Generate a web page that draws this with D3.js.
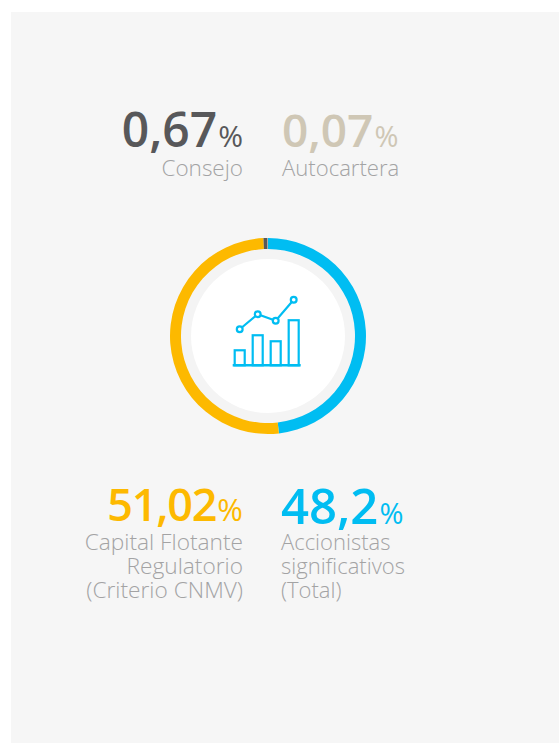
<!DOCTYPE html>
<html>
<head>
<meta charset="utf-8">
<script src="https://cdn.jsdelivr.net/npm/d3@7/dist/d3.min.js"></script>
<style>
html,body{margin:0;padding:0;background:#fff;overflow:hidden}
text{font-family:"Open Sans",sans-serif}
</style>
</head>
<body>
<svg id="c" width="559" height="743"></svg>
<script>
const categories = ["Accionistas significativos (Total)", "Capital Flotante Regulatorio (Criterio CNMV)", "Consejo", "Autocartera"];
const values = [48.2, 51.02, 0.67, 0.07];
const valueLabels = ["48,2", "51,02", "0,67", "0,07"];
const sliceColors = ["#00bdf2", "#fdb900", "#58585a", "#cfc7b5"];
const labelLines = [["Accionistas", "significativos", "(Total)"], ["Capital Flotante", "Regulatorio", "(Criterio CNMV)"], ["Consejo"], ["Autocartera"]];
const iconBars = [15, 30, 24, 45];
const iconLine = [36, 51, 44.5, 65.5];

const svg = d3.select("#c");
svg.append("rect").attr("x", 11).attr("y", 12).attr("width", 548).attr("height", 731).attr("fill", "#f6f6f6");

const cx = 268, cy = 336;
const g = svg.append("g").attr("transform", `translate(${cx},${cy})`);
g.append("circle").attr("r", 87).attr("fill", "#f4f4f4");
g.append("circle").attr("r", 77).attr("fill", "#ffffff");

const pie = d3.pie().sort(null).value(d => d);
const arc = d3.arc().innerRadius(87).outerRadius(98);
g.selectAll("path.slice").data(pie(values)).join("path")
  .attr("class", "slice").attr("d", arc).attr("fill", (d, i) => sliceColors[i]);

// icon
const iconBlue = "#00bdf2";
const ix = d3.scaleBand().domain(d3.range(iconBars.length)).range([234.7, 298.7]).paddingInner(0.444).paddingOuter(0);
const iy = d3.scaleLinear().domain([0, 65.5]).range([365.3, 299.7]);
const icon = svg.append("g").attr("fill", "none").attr("stroke", iconBlue).attr("stroke-width", 2.2);
icon.selectAll("rect").data(iconBars).join("rect")
  .attr("x", (d, i) => ix(i)).attr("width", ix.bandwidth())
  .attr("y", d => iy(d)).attr("height", d => iy(0) - iy(d));
icon.append("line").attr("x1", 232.7).attr("x2", 300.7).attr("y1", iy(0)).attr("y2", iy(0)).attr("stroke-width", 2.4);
const lx = i => ix(i) + ix.bandwidth() / 2;
icon.append("path").attr("d", d3.line().x((d, i) => lx(i)).y(d => iy(d))(iconLine));
icon.selectAll("circle").data(iconLine).join("circle")
  .attr("cx", (d, i) => lx(i)).attr("cy", d => iy(d)).attr("r", 2.9).attr("fill", "#fff");

// texts
const layout = [
  {x: 281, anchor: "start", y: 524, yl: 550, size: 49, ls: 0, pct: 29, lab: 22},
  {x: 243, anchor: "end", y: 521, yl: 550, size: 45, ls: -1.2, pct: 31, lab: 22.7},
  {x: 243, anchor: "end", y: 147, yl: 176, size: 48, ls: 0, pct: 30, lab: 22.5},
  {x: 282, anchor: "start", y: 147, yl: 176, size: 46, ls: 0, pct: 29, lab: 22.1}
];
const labelColor = "#a3a3a4";
values.forEach((v, i) => {
  const l = layout[i];
  const t = svg.append("text").attr("x", l.x).attr("y", l.y).attr("text-anchor", l.anchor).attr("fill", sliceColors[i]);
  t.append("tspan").attr("font-size", l.size).attr("font-weight", 600).attr("letter-spacing", l.ls).text(valueLabels[i]);
  t.append("tspan").attr("font-size", l.pct).attr("font-weight", 400).attr("dx", 1).text("%");
  labelLines[i].forEach((s, j) => {
    svg.append("text").attr("x", l.x).attr("y", l.yl + j * 24).attr("text-anchor", l.anchor)
      .attr("fill", labelColor).attr("font-size", l.lab).attr("font-weight", 300).text(s);
  });
});
</script>
</body>
</html>
